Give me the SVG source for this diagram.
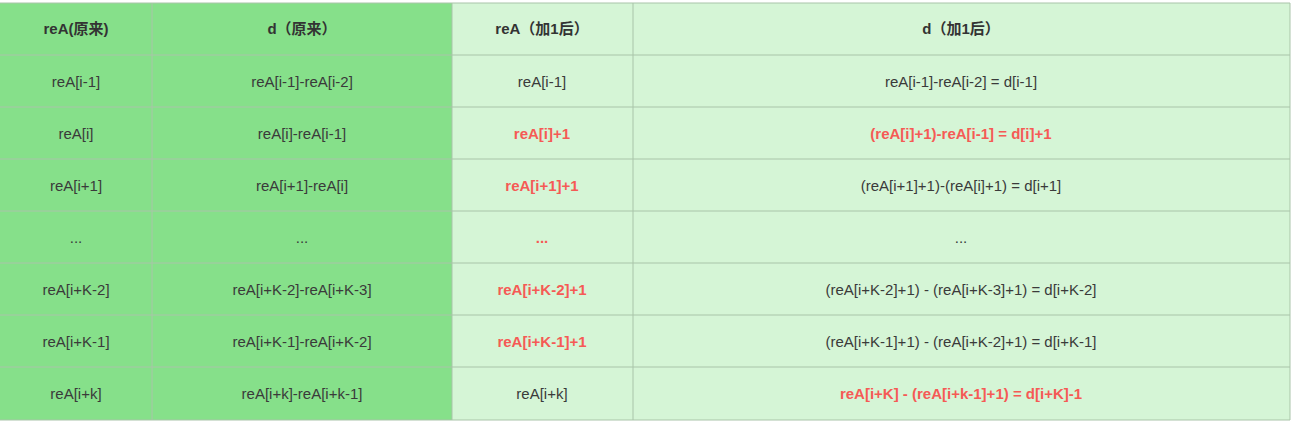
<svg xmlns="http://www.w3.org/2000/svg" width="1295" height="422" viewBox="0 0 1295 422">
<style>
text{font-family:"Liberation Sans","Noto Sans CJK SC",sans-serif;font-size:15px;fill:#3a3a3a;text-anchor:middle;dominant-baseline:central}
.h{font-weight:bold;fill:#333}
.r{font-weight:bold;fill:#f55a55}
.g{stroke:#a9c4a9;stroke-width:1;fill:none}
</style>
<rect width="1295" height="422" fill="#fff"/>
<rect x="0" y="3" width="452" height="417" fill="#86e08a"/>
<rect x="452" y="3" width="838" height="417" fill="#d5f5d6"/>
<g id="grid" class="g">
<path d="M152 3V420M452 3V420M633 3V420M1290 3V420M0 3H1290M0 55H1290M0 107H1290M0 159H1290M0 211H1290M0 263H1290M0 315H1290M0 367H1290M0 420H1290"/>
</g>
<g id="header">
<text class="h" x="76" y="28">reA(原来)</text>
<text class="h" x="302" y="28">d（原来）</text>
<text class="h" x="542" y="28">reA（加1后）</text>
<text class="h" x="961" y="28">d（加1后）</text>
</g>
<g id="r1"><text x="76" y="81">reA[i-1]</text><text x="302" y="81">reA[i-1]-reA[i-2]</text><text x="542" y="81">reA[i-1]</text><text x="961" y="81">reA[i-1]-reA[i-2] = d[i-1]</text></g>
<g id="r2"><text x="76" y="133">reA[i]</text><text x="302" y="133">reA[i]-reA[i-1]</text><text class="r" x="542" y="133">reA[i]+1</text><text class="r" x="961" y="133">(reA[i]+1)-reA[i-1] = d[i]+1</text></g>
<g id="r3"><text x="76" y="185">reA[i+1]</text><text x="302" y="185">reA[i+1]-reA[i]</text><text class="r" x="542" y="185">reA[i+1]+1</text><text x="961" y="185">(reA[i+1]+1)-(reA[i]+1) = d[i+1]</text></g>
<g id="r4"><text x="76" y="237">...</text><text x="302" y="237">...</text><text class="r" x="542" y="237">...</text><text x="961" y="237">...</text></g>
<g id="r5"><text x="76" y="289">reA[i+K-2]</text><text x="302" y="289">reA[i+K-2]-reA[i+K-3]</text><text class="r" x="542" y="289">reA[i+K-2]+1</text><text x="961" y="289">(reA[i+K-2]+1) - (reA[i+K-3]+1) = d[i+K-2]</text></g>
<g id="r6"><text x="76" y="341">reA[i+K-1]</text><text x="302" y="341">reA[i+K-1]-reA[i+K-2]</text><text class="r" x="542" y="341">reA[i+K-1]+1</text><text x="961" y="341">(reA[i+K-1]+1) - (reA[i+K-2]+1) = d[i+K-1]</text></g>
<g id="r7"><text x="76" y="393">reA[i+k]</text><text x="302" y="393">reA[i+k]-reA[i+k-1]</text><text x="542" y="393">reA[i+k]</text><text class="r" x="961" y="393">reA[i+K] - (reA[i+k-1]+1) = d[i+K]-1</text></g>
</svg>
